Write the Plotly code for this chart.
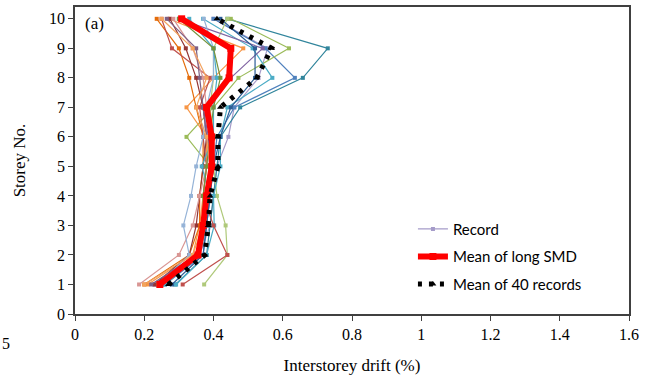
import plotly.graph_objects as go

storeys = [1, 2, 3, 4, 5, 6, 7, 8, 9, 10]

# individual record drifts (%), storey 1..10
records = {
    "R1":  [0.25, 0.36, 0.39, 0.40, 0.41, 0.443, 0.46, 0.53, 0.556, 0.40],
    "R2":  [0.29, 0.38, 0.39, 0.40, 0.41, 0.42, 0.477, 0.658, 0.73, 0.44],
    "R3":  [0.26, 0.37, 0.38, 0.39, 0.40, 0.41, 0.46, 0.635, 0.55, 0.40],
    "R4":  [0.25, 0.35, 0.37, 0.38, 0.39, 0.322, 0.40, 0.472, 0.618, 0.45],
    "R5":  [0.373, 0.44, 0.435, 0.41, 0.40, 0.40, 0.39, 0.40, 0.40, 0.44],
    "R6":  [0.292, 0.38, 0.402, 0.40, 0.42, 0.42, 0.44, 0.57, 0.513, 0.37],
    "R7":  [0.23, 0.35, 0.37, 0.38, 0.39, 0.385, 0.37, 0.45, 0.542, 0.30],
    "R8":  [0.21, 0.34, 0.36, 0.37, 0.38, 0.38, 0.322, 0.40, 0.486, 0.27],
    "R9":  [0.20, 0.33, 0.36, 0.36, 0.37, 0.37, 0.35, 0.33, 0.30, 0.236],
    "R10": [0.311, 0.44, 0.40, 0.37, 0.38, 0.37, 0.36, 0.39, 0.28, 0.25],
    "R11": [0.23, 0.33, 0.35, 0.36, 0.37, 0.38, 0.37, 0.35, 0.32, 0.274],
    "R12": [0.185, 0.30, 0.34, 0.36, 0.38, 0.39, 0.38, 0.37, 0.34, 0.284],
    "R13": [0.24, 0.33, 0.313, 0.335, 0.35, 0.37, 0.38, 0.40, 0.40, 0.372],
    "R14": [0.22, 0.35, 0.37, 0.38, 0.39, 0.38, 0.37, 0.36, 0.35, 0.265],
    "R15": [0.26, 0.36, 0.38, 0.39, 0.366, 0.40, 0.40, 0.41, 0.40, 0.33],
    "R16": [0.28, 0.37, 0.38, 0.39, 0.40, 0.42, 0.45, 0.52, 0.52, 0.42],
    "R17": [0.24, 0.36, 0.37, 0.37, 0.38, 0.39, 0.40, 0.42, 0.40, 0.30],
    "R18": [0.20, 0.34, 0.37, 0.38, 0.39, 0.38, 0.35, 0.38, 0.34, 0.25],
}
record_colors = ["#A59BC9", "#31859C", "#4F81BD", "#9BBB59", "#AFC97A", "#4BACC6",
                 "#8064A2", "#F79646", "#E46C0A", "#C0504D", "#943634", "#D99694",
                 "#95B3D7", "#7F6084", "#4BACC6", "#2C5D95", "#77933C", "#F3A35E"]

mean_long_smd = [0.245, 0.355, 0.37, 0.38, 0.395, 0.395, 0.38, 0.445, 0.45, 0.308]
mean_40 = [0.27, 0.375, 0.385, 0.39, 0.413, 0.413, 0.42, 0.525, 0.568, 0.41]

x_ticks = [0, 0.2, 0.4, 0.6, 0.8, 1, 1.2, 1.4, 1.6]
y_ticks = list(range(0, 11))

fig = go.Figure()
for i, (name, vals) in enumerate(records.items()):
    fig.add_trace(go.Scatter(
        x=vals, y=storeys, mode="lines+markers",
        line=dict(color=record_colors[i], width=1.2),
        marker=dict(symbol="square", size=4, color=record_colors[i]),
        name="Record", showlegend=(i == 0), legendrank=1, legendgroup="rec"))

fig.add_trace(go.Scatter(
    x=mean_long_smd, y=storeys, mode="lines+markers",
    line=dict(color="#FF0000", width=6),
    marker=dict(symbol="square", size=7, color="#FF0000"),
    name="Mean of long SMD", legendrank=2, legendgroup="smd"))

fig.add_trace(go.Scatter(
    x=mean_40, y=storeys, mode="lines+markers",
    line=dict(color="#000000", width=5, dash="4px,7px"),
    marker=dict(symbol="triangle-up", size=6, color="#000000"),
    name="Mean of 40 records", legendrank=3, legendgroup="m40"))

axis_font = dict(family="Liberation Serif", size=16, color="#000000")

fig.update_layout(
    width=656, height=381,
    margin=dict(l=75, r=27, t=5, b=67),
    paper_bgcolor="white", plot_bgcolor="white",
    showlegend=True,
    legend=dict(x=0.61, y=0.33, xanchor="left", yanchor="top",
                bgcolor="rgba(0,0,0,0)", font=dict(family="Lato", size=15, color="#000"),
                tracegroupgap=5, itemwidth=30, traceorder="grouped"),
    annotations=[
        dict(text="(a)", x=0.015, y=0.985, xref="paper", yref="paper",
             xanchor="left", yanchor="top", showarrow=False,
             font=dict(family="Liberation Serif", size=17, color="#000")),
        dict(text="5", x=-0.135, y=-0.095, xref="paper", yref="paper",
             xanchor="left", yanchor="middle", showarrow=False,
             font=dict(family="Liberation Serif", size=16, color="#000")),
    ],
)
fig.update_xaxes(
    range=[0, 1.6], tickvals=x_ticks, ticktext=[f"{v:g}" for v in x_ticks],
    showgrid=False, zeroline=False, showline=True, linecolor="#404040", linewidth=1.5,
    mirror=True, ticks="outside", ticklen=5, tickcolor="#404040",
    tickfont=axis_font,
    title=dict(text="Interstorey drift (%)", font=dict(family="Liberation Serif", size=17, color="#000"), standoff=17))
fig.update_yaxes(
    range=[0, 10.4], tickvals=y_ticks,
    showgrid=False, zeroline=False, showline=True, linecolor="#404040", linewidth=1.5,
    mirror=True, ticks="outside", ticklen=5, tickcolor="#404040",
    tickfont=axis_font,
    title=dict(text="Storey No.", font=dict(family="Liberation Serif", size=17, color="#000"), standoff=19))

fig.write_html("out.html")
